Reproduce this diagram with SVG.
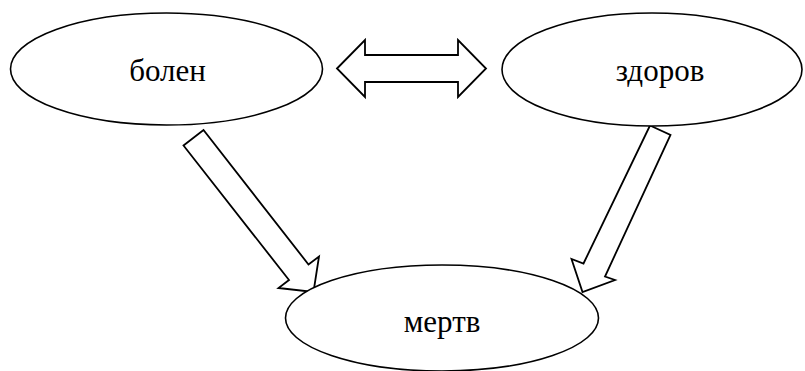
<svg xmlns="http://www.w3.org/2000/svg" width="805" height="371" viewBox="0 0 805 371">
<style>
.node ellipse{fill:#fff;stroke:#000;stroke-width:1.6}
.node text{font-family:'Liberation Serif','Times New Roman',serif;font-size:31px;text-anchor:middle;fill:#000}
.conn polygon{fill:#fff;stroke:#000;stroke-width:1.8;stroke-linejoin:miter}
</style>
<rect width="805" height="371" fill="#fff"/>
<g class="conn" id="connectors">
<polygon id="a-bolen-zdorov" points="337,68.5 365,40 365,55 458,55 458,40 486,68.5 458,97 458,82 365,82 365,97"/>
<polygon id="a-bolen-mertv" points="183.5,145.5 203.5,130 308.5,264.5 319,256.5 313.5,292 278.5,288 289,280"/>
<polygon id="a-zdorov-mertv" points="650,125.5 670.5,135 605,276.5 615,280 582.5,292 571.5,259 583.5,263.5"/>
</g>
<g class="node" id="n-bolen">
<ellipse cx="166.5" cy="69" rx="156" ry="56"/>
<text x="167.5" y="81">болен</text>
</g>
<g class="node" id="n-zdorov">
<ellipse cx="652" cy="69.5" rx="150" ry="56.5"/>
<text x="660" y="81">здоров</text>
</g>
<g class="node" id="n-mertv">
<ellipse cx="442" cy="318" rx="156.5" ry="53"/>
<text x="442" y="331.5">мертв</text>
</g>
</svg>
